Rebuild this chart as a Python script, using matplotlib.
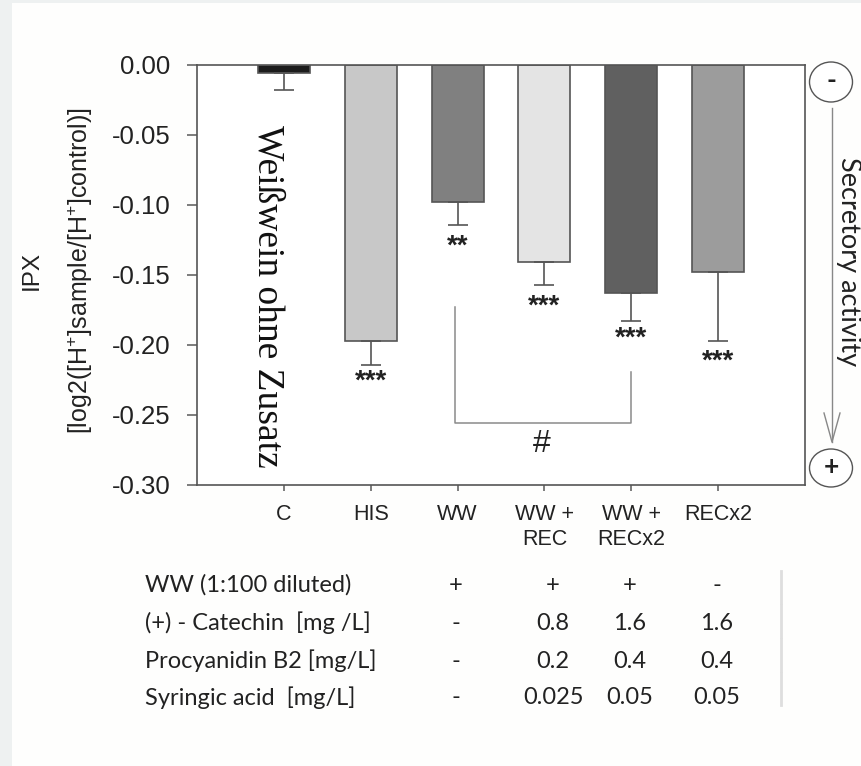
import matplotlib
matplotlib.use("Agg")
import matplotlib.pyplot as plt
from matplotlib.patches import Rectangle, Ellipse
import matplotlib.transforms as mtransforms
import numpy as np

# ---- data ----
categories = ["C", "HIS", "WW", "WW +\nREC", "WW +\nRECx2", "RECx2"]
values = [-0.006, -0.197, -0.098, -0.141, -0.163, -0.148]
errors = [0.012, 0.017, 0.016, 0.016, 0.020, 0.049]
bar_colors = ["#1c1c1c", "#c8c8c8", "#808080", "#e4e4e4", "#606060", "#9c9c9c"]
stars = ["", "***", "**", "***", "***", "***"]
star_y = [None, -0.226, -0.130, -0.1726, -0.1957, -0.212]
yticks = [0.00, -0.05, -0.10, -0.15, -0.20, -0.25, -0.30]

table_rows = ["WW (1:100 diluted)", "(+) - Catechin  [mg /L]",
              "Procyanidin B2 [mg/L]", "Syringic acid  [mg/L]"]
table_vals = [["+", "+", "+", "-"],
              ["-", "0.8", "1.6", "1.6"],
              ["-", "0.2", "0.4", "0.4"],
              ["-", "0.025", "0.05", "0.05"]]

plt.rcParams['mathtext.fontset'] = 'custom'
plt.rcParams['mathtext.rm'] = 'Liberation Sans'
plt.rcParams['mathtext.it'] = 'Liberation Sans'

W, H = 861, 766
fig = plt.figure(figsize=(W / 100, H / 100), dpi=100, facecolor="#eef1f1")
fig.patches.append(Rectangle((12 / W, 0), 1 - 12 / W, 1 - 3 / H, transform=fig.transFigure,
                             facecolor="#fefefd", edgecolor="none", zorder=-5))

def fx(px):
    return px / W

def fy(py):
    return 1 - py / H

ax = fig.add_axes([fx(197), fy(485), fx(805) - fx(197), fy(65) - fy(485)])
ax.set_facecolor("white")
x = np.arange(len(categories))
ax.bar(x, values, width=0.6, color=bar_colors, edgecolor="#555555", linewidth=1.2, zorder=2)
ax.errorbar(x, values, yerr=[errors, np.zeros(len(errors))], fmt="none", ecolor="#555555",
            elinewidth=1.2, capsize=7, capthick=1.2, zorder=3)
ax.set_xlim(-1, 6)
ax.set_ylim(-0.30, 0.0)
ax.set_yticks(yticks)
ax.set_yticklabels([f"{v:.2f}" for v in yticks], fontsize=18.5, family="Liberation Sans")
ax.set_xticks(x)
ax.set_xticklabels(categories, fontsize=15.5, family="Liberation Sans", linespacing=1.25)
# last label sits a bit to the right of its tick in the reference
lab = ax.get_xticklabels()[-1]
lab.set_transform(lab.get_transform() + mtransforms.ScaledTranslation(0.23, 0, fig.dpi_scale_trans))
for s in ax.spines.values():
    s.set_color("#555555")
    s.set_linewidth(1.2)
ax.tick_params(axis="both", direction="out", width=1.2, color="#666666", labelcolor="#222222")
ax.tick_params(axis="y", length=7, pad=12)
ax.tick_params(axis="x", length=4, pad=10)

for xi, st, sy in zip(x, stars, star_y):
    if st:
        ax.text(xi, sy, st, ha="center", va="center", fontsize=20, family="Liberation Sans",
                weight="bold", color="#222222")

# bracket
ax.plot([1.97, 1.97, 4.0, 4.0], [-0.1726, -0.2558, -0.2558, -0.219], color="#8a8a8a", lw=1.1, zorder=2)
ax.text(2.97, -0.271, "#", ha="center", va="center", fontsize=23, family="Liberation Sans", color="#222222")

ax.text(-0.19, -0.165, "Weißwein ohne Zusatz", rotation=-90, ha="center", va="center",
        fontsize=27, family="Liberation Serif", color="#111111")

# y label
fig.text(fx(32), fy(270), "IPX", rotation=90, ha="center", va="center", fontsize=17.5,
         family="Liberation Sans", color="#222222")
fig.text(fx(80), fy(271), r"[log2([H$^{+}$]sample/[H$^{+}$]control)]", rotation=90, ha="center",
         va="center", fontsize=18, family="Liberation Sans", color="#222222")

# secretory activity indicator
fig.patches.append(Ellipse((fx(831), fy(82)), 43 / W, 40 / H, transform=fig.transFigure,
                           facecolor="white", edgecolor="#555555", lw=1.0))
fig.patches.append(Ellipse((fx(831), fy(468)), 43 / W, 38 / H, transform=fig.transFigure,
                           facecolor="white", edgecolor="#555555", lw=1.0))
fig.text(fx(831), fy(81), "-", ha="center", va="center", fontsize=19, family="Lato",
         weight="bold", color="#222222")
fig.text(fx(831), fy(467), "+", ha="center", va="center", fontsize=19, family="Lato",
         weight="bold", color="#222222")
fig.lines.append(plt.Line2D([fx(832), fx(832)], [fy(108), fy(442)], transform=fig.transFigure,
                            color="#888888", lw=1.0))
fig.lines.append(plt.Line2D([fx(824), fx(832), fx(840)], [fy(413), fy(442), fy(413)],
                            transform=fig.transFigure, color="#888888", lw=1.0))
fig.text(fx(848), fy(262), "Secretory activity", rotation=-90, ha="center", va="center",
         fontsize=19.5, family="Lato", color="#222222")

# table
row_y = [585, 623, 661, 698]
col_x = [456, 553, 630, 717]
for r, (lbl, vals) in enumerate(zip(table_rows, table_vals)):
    fig.text(fx(145), fy(row_y[r]), lbl, ha="left", va="center", fontsize=17, family="Lato",
             color="#222222")
    for c, v in enumerate(vals):
        fig.text(fx(col_x[c]), fy(row_y[r]), v, ha="center", va="center", fontsize=17,
                 family="Lato", color="#222222")
seg = [(571, 603), (605, 637), (639, 671), (673, 705)]
for a, b in seg:
    fig.lines.append(plt.Line2D([fx(781), fx(781)], [fy(a), fy(b)], transform=fig.transFigure,
                                color="#dedede", lw=2))

fig.savefig("out.png", dpi=100, facecolor=fig.get_facecolor())
